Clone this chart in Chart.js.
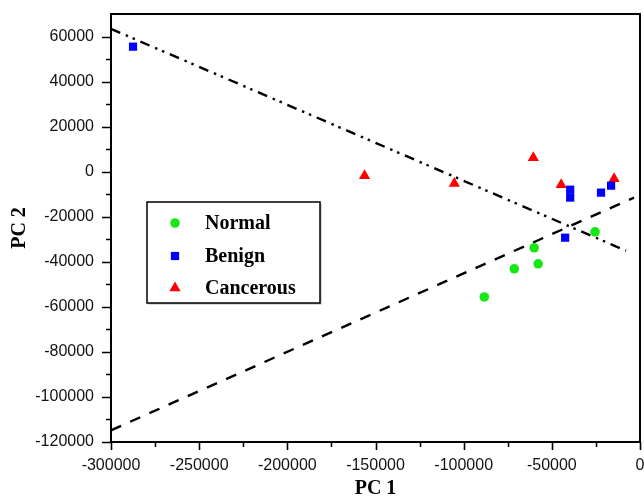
<!DOCTYPE html>
<html><head><meta charset="utf-8">
<script src="https://cdn.jsdelivr.net/npm/chart.js@4/dist/chart.umd.min.js"></script>
<style>html,body{margin:0;padding:0;background:#fff}</style>
</head><body>
<canvas id="c" width="644" height="496"></canvas>
<script>
// ---- data ----
const seriesNames = ['Normal', 'Benign', 'Cancerous'];
const normalX = [-88300, -71300, -60000, -57750, -25500];
const normalY = [-55600, -43100, -33800, -40900, -26700];
const benignX = [-287500, -42450, -39600, -39600, -22100, -16400];
const benignY = [55500, -29300, -8000, -11500, -9300, -6200];
const cancerX = [-156200, -105300, -60500, -44700, -14700];
const cancerY = [-1800, -5300, 6200, -5800, -3100];
// separating lines (end points)
const line1X = [-300000, -7900];
const line1Y = [63400, -35100];
const line2X = [-300000, -3400];
const line2Y = [-114800, -11500];
// tick labels
const xTickLabels = [-300000, -250000, -200000, -150000, -100000, -50000, 0];
const yTickLabels = [-120000, -100000, -80000, -60000, -40000, -20000, 0, 20000, 40000, 60000];

const colors = ['rgb(22,232,22)', 'rgb(0,0,255)', 'rgb(255,0,0)'];
const styles = ['circle', 'rect', 'triangle'];
const radii = [4.8, 5.8, 6.5];

function pts(xs, ys) { return xs.map((x, i) => ({x: x, y: ys[i]})); }

const decor = {
  id: 'decor',
  afterDatasetsDraw(chart) {
    const ctx = chart.ctx;
    const a = chart.chartArea;
    const xs = chart.scales.x, ys = chart.scales.y;
    ctx.save();
    ctx.strokeStyle = '#000';
    ctx.lineWidth = 2;
    ctx.strokeRect(a.left, a.top, a.right - a.left, a.bottom - a.top);
    ctx.lineWidth = 1.6;
    ctx.beginPath();
    xs.ticks.forEach(t => {
      const px = Math.round(xs.getPixelForValue(t.value)) + 0.5;
      const major = xTickLabels.includes(t.value);
      ctx.moveTo(px, a.bottom);
      ctx.lineTo(px, a.bottom + (major ? 8 : 5));
    });
    ys.ticks.forEach(t => {
      const py = Math.round(ys.getPixelForValue(t.value)) + 0.5;
      if (t.value > 60000) return;
      const major = yTickLabels.includes(t.value);
      ctx.moveTo(a.left, py);
      ctx.lineTo(a.left - (major ? 9 : 5), py);
    });
    ctx.stroke();

    // legend box
    const bx = 147, by = 202, bw = 173, bh = 101;
    ctx.fillStyle = '#b0b0b0';
    ctx.fillRect(bx + 1.5, by + 1.5, bw, bh);
    ctx.fillStyle = '#fff';
    ctx.fillRect(bx, by, bw, bh);
    ctx.lineWidth = 1.5;
    ctx.strokeStyle = '#000';
    ctx.strokeRect(bx, by, bw, bh);
    const rows = [223, 256, 288];
    seriesNames.forEach((name, i) => {
      ctx.fillStyle = colors[i];
      ctx.strokeStyle = colors[i];
      Chart.helpers.drawPoint(ctx, {pointStyle: styles[i], radius: radii[i], rotation: 0, borderWidth: 0}, 175, rows[i]);
      ctx.fillStyle = '#000';
      ctx.font = 'bold 20px "Liberation Serif"';
      ctx.textBaseline = 'middle';
      ctx.textAlign = 'left';
      ctx.fillText(name, 205, rows[i] + 1);
    });
    ctx.restore();
  }
};

const tickFont = {family: '"Liberation Sans", Arial, sans-serif', size: 16};
const titleFont = {family: '"Liberation Serif", serif', size: 20, weight: 'bold', lineHeight: 0.8};

function zeroPad(s) {
  s.paddingTop = 0; s.paddingBottom = 0; s.paddingLeft = 0; s.paddingRight = 0;
}

new Chart(document.getElementById('c'), {
  type: 'scatter',
  data: {
    datasets: [
      {label: seriesNames[0], data: pts(normalX, normalY), pointStyle: styles[0], pointRadius: radii[0], backgroundColor: colors[0], borderColor: colors[0], borderWidth: 0},
      {label: seriesNames[1], data: pts(benignX, benignY), pointStyle: styles[1], pointRadius: radii[1], backgroundColor: colors[1], borderColor: colors[1], borderWidth: 0},
      {label: seriesNames[2], data: pts(cancerX, cancerY), pointStyle: styles[2], pointRadius: radii[2], backgroundColor: colors[2], borderColor: colors[2], borderWidth: 0},
      {type: 'line', label: 'line1', data: pts(line1X, line1Y), showLine: true, pointRadius: 0, borderColor: '#000', borderWidth: 2.4, borderDash: [10, 6, 2.5, 5, 2.5, 6], fill: false},
      {type: 'line', label: 'line2', data: pts(line2X, line2Y), showLine: true, pointRadius: 0, borderColor: '#000', borderWidth: 2.4, borderDash: [11, 10], fill: false}
    ]
  },
  options: {
    responsive: false,
    devicePixelRatio: 1,
    animation: false,
    events: [],
    layout: {autoPadding: false, padding: {top: 14, right: 4, left: 0, bottom: 0}},
    plugins: {legend: {display: false}, tooltip: {enabled: false}},
    scales: {
      x: {
        type: 'linear', min: -300000, max: 0,
        grid: {display: false, drawTicks: false},
        border: {display: false},
        ticks: {stepSize: 25000, autoSkip: false, maxRotation: 0, padding: 14, font: tickFont, color: '#111',
          callback: v => (xTickLabels.includes(v) ? String(v) : '')},
        title: {display: true, text: 'PC 1', font: titleFont, color: '#000', padding: {top: 0, bottom: -1}},
        afterFit: s => { s.height = 54; zeroPad(s); }
      },
      y: {
        type: 'linear', min: -120000, max: 70000,
        grid: {display: false, drawTicks: false},
        border: {display: false},
        ticks: {stepSize: 10000, autoSkip: false, padding: 17, font: tickFont, color: '#111',
          callback: v => (yTickLabels.includes(v) ? String(v) : '')},
        title: {display: true, text: 'PC 2', font: titleFont, color: '#000', padding: {top: 11.5, bottom: 0}},
        afterFit: s => { s.width = 111; zeroPad(s); }
      }
    }
  },
  plugins: [decor]
});
</script>
</body></html>
